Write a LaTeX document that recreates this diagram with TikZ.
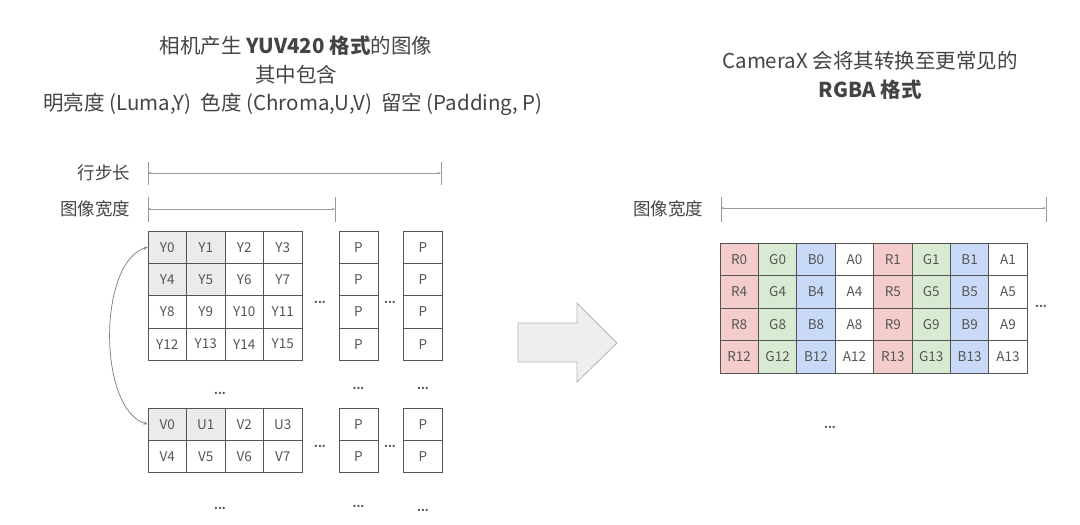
\documentclass[tikz,border=0pt]{standalone}
\usepackage{fontspec}
\setmainfont{Noto Sans CJK SC}
\usetikzlibrary{arrows.meta}
\definecolor{txt}{HTML}{444444}
\definecolor{celltxt}{HTML}{555555}
\definecolor{gridc}{HTML}{555555}
\definecolor{dimc}{HTML}{999999}
\definecolor{shade}{HTML}{EBEBEB}
\definecolor{rcol}{HTML}{F4CCCC}
\definecolor{gcol}{HTML}{D9EAD3}
\definecolor{bcol}{HTML}{C9DAF8}
\definecolor{arrfill}{HTML}{EFEFEF}
\definecolor{arrdraw}{HTML}{B5B5B5}
\begin{document}
\begin{tikzpicture}[x=1pt,y=-1pt,
  cell/.style={draw=gridc, minimum width=38.5pt, minimum height=32.3pt, inner sep=0pt,
    font=\fontsize{13.5}{13.5}\selectfont, text=celltxt, line width=0.7pt},
  pcell/.style={cell, minimum width=39pt},
  rgcell/.style={cell, minimum width=38.4pt, minimum height=32.5pt},
  title/.style={font=\fontsize{20.5}{29}\selectfont, text=txt, align=center},
  dimlabel/.style={font=\fontsize{17.5}{17.5}\selectfont, text=txt, anchor=east},
  dimline/.style={draw=dimc, line width=0.7pt},
  dimarrow/.style={dimline, {Stealth[length=3pt,width=2.5pt]}-{Stealth[length=3pt,width=2.5pt]}},
  dots/.style={font=\fontsize{11}{11}\selectfont\bfseries, text=celltxt, inner sep=0pt},
  link/.style={draw=dimc!80!black, line width=0.7pt, {Stealth[length=4pt,width=3pt]}-{Stealth[length=4pt,width=3pt]}}
]
\useasboundingbox (0,0) rectangle (1080,525);

% ---------- titles ----------
\node[title] (t1) at (296,46) {相机产生 \textbf{YUV420 格式}的图像};
\node[title] (t2) at (296,75) {其中包含};
\node[title] (t3) at (293,104) {明亮度 (Luma,Y)\ \ 色度 (Chroma,U,V)\ \ 留空 (Padding, P)};
\node[title] (t4) at (870,61) {CameraX 会将其转换至更常见的};
\node[title] (t5) at (870,90) {\textbf{RGBA 格式}};

% ---------- dimension lines (left) ----------
\node[dimlabel] (lstride) at (134,173) {行步长};
\node[dimlabel] (lwidth) at (134,209) {图像宽度};
\coordinate (s0) at (148,173); \coordinate (s1) at (441,173);
\coordinate (s0t) at (148,162); \coordinate (s0b) at (148,185);
\coordinate (s1t) at (441,162); \coordinate (s1b) at (441,185);
\draw[dimline] (s0t) -- (s0b); \draw[dimline] (s1t) -- (s1b);
\draw[dimarrow] (s0) -- (s1);
\coordinate (w0) at (148,209); \coordinate (w1) at (335,209);
\coordinate (w0t) at (148,197); \coordinate (w0b) at (148,222);
\coordinate (w1t) at (335,197); \coordinate (w1b) at (335,222);
\draw[dimline] (w0t) -- (w0b); \draw[dimline] (w1t) -- (w1b);
\draw[dimarrow] (w0) -- (w1);

% ---------- Y plane ----------
\foreach \r in {0,...,3}{
  \foreach \c in {0,...,3}{
    \pgfmathtruncatemacro{\n}{4*\r+\c}
    \pgfmathsetmacro{\f}{(\r<2 && \c<2) ? 1 : 0}
    \ifdim\f pt>0.5pt
      \node[cell, fill=shade] (y\r\c) at ({148+38.5*(\c+0.5)},{231+32.3*(\r+0.5)}) {Y\n};
    \else
      \node[cell] (y\r\c) at ({148+38.5*(\c+0.5)},{231+32.3*(\r+0.5)}) {Y\n};
    \fi
  }
  \node[pcell] (pa\r) at (358.5,{231+32.3*(\r+0.5)}) {P};
  \node[pcell] (pb\r) at (423,{231+32.3*(\r+0.5)}) {P};
}
\node[dots] (d1) at (320,302) {...};
\node[dots] (d2) at (390,302) {...};

% ---------- UV plane ----------
\node[dots] (d3) at (220,393) {...};
\node[dots] (d4) at (358.5,388) {...};
\node[dots] (d5) at (423,388) {...};
\foreach \lab [count=\i from 0] in {V0,U1,V2,U3}{
  \ifnum\i<2
    \node[cell, fill=shade] (u0\i) at ({148+38.5*(\i+0.5)},424.2) {\lab};
  \else
    \node[cell] (u0\i) at ({148+38.5*(\i+0.5)},424.2) {\lab};
  \fi
}
\foreach \lab [count=\i from 0] in {V4,V5,V6,V7}{
  \node[cell] (u1\i) at ({148+38.5*(\i+0.5)},456.5) {\lab};
}
\node[pcell] (pu0) at (358.5,424.2) {P};
\node[pcell] (pu1) at (358.5,456.5) {P};
\node[pcell] (pv0) at (423,424.2) {P};
\node[pcell] (pv1) at (423,456.5) {P};
\node[dots] (d6) at (320,446) {...};
\node[dots] (d7) at (390,446) {...};
\node[dots] (d8) at (220,508) {...};
\node[dots] (d9) at (358.5,506) {...};
\node[dots] (d10) at (423,510) {...};

% ---------- link Y0 <-> V0 ----------
\draw[link] (y00.west) .. controls +(-50,15) and +(-50,-15) .. (u00.west);

% ---------- big arrow ----------
\draw[fill=arrfill, draw=arrdraw, line width=0.8pt, line join=miter]
  (518,323) -- (577,323) -- (577,303) -- (617,343) -- (577,382) -- (577,362) -- (518,362) -- cycle;

% ---------- right dimension ----------
\node[dimlabel] (rwidth) at (707,209) {图像宽度};
\coordinate (r0) at (721,208); \coordinate (r1) at (1046,208);
\coordinate (r0t) at (721,197); \coordinate (r0b) at (721,222);
\coordinate (r1t) at (1046,197); \coordinate (r1b) at (1046,222);
\draw[dimline] (r0t) -- (r0b); \draw[dimline] (r1t) -- (r1b);
\draw[dimarrow] (r0) -- (r1);

% ---------- RGBA grid ----------
\foreach \r in {0,...,3}{
  \pgfmathtruncatemacro{\na}{4*\r}
  \pgfmathtruncatemacro{\nb}{4*\r+1}
  \foreach \k/\lab/\col in {0/R/rcol,1/G/gcol,2/B/bcol,3/A/white}{
    \node[rgcell, fill=\col] (q\r\k) at ({720+38.4*(\k+0.5)},{243+32.5*(\r+0.5)}) {\lab\na};
    \pgfmathtruncatemacro{\kk}{\k+4}
    \node[rgcell, fill=\col] (q\r\kk) at ({720+38.4*(\k+4.5)},{243+32.5*(\r+0.5)}) {\lab\nb};
  }
}
\node[dots] (d11) at (1041,306) {...};
\node[dots] (d12) at (830,427) {...};
\end{tikzpicture}
\end{document}
